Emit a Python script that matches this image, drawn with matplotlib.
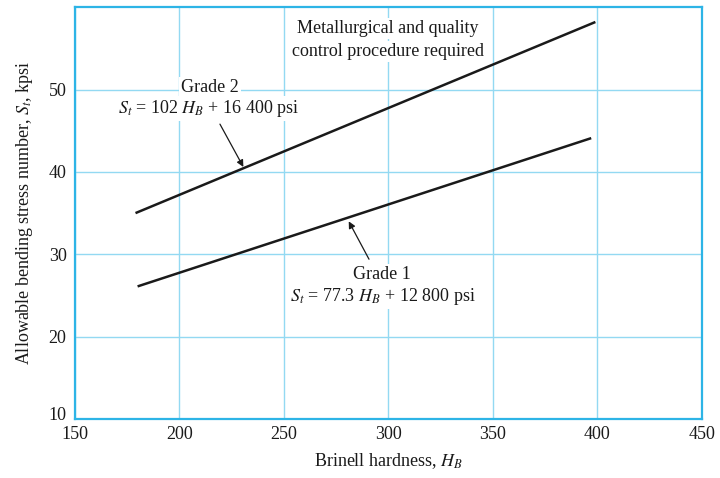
import matplotlib
matplotlib.use('Agg')
import matplotlib.pyplot as plt
from matplotlib.transforms import ScaledTranslation

plt.rcParams['font.family'] = ['Liberation Serif', 'DejaVu Serif']
plt.rcParams['mathtext.fontset'] = 'stix'

# values (kpsi vs Brinell hardness)
hb_grade1 = [180, 397]
st_grade1 = [26.1, 44.1]
hb_grade2 = [179, 399]
st_grade2 = [35.0, 58.2]

x_ticks = [150, 200, 250, 300, 350, 400, 450]
y_ticks = [10, 20, 30, 40, 50]

frame_col = '#2db4e6'
grid_col = '#93d9f2'
ink = '#1a1a1a'

fig = plt.figure(figsize=(7.2, 4.78), dpi=100)
ax = fig.add_axes([0.104, 0.1234, 0.871, 0.8616])

ax.plot(hb_grade1, st_grade1, color=ink, lw=1.8, solid_capstyle='butt', zorder=3)
ax.plot(hb_grade2, st_grade2, color=ink, lw=1.8, solid_capstyle='butt', zorder=3)

ax.set_xlim(150, 450)
ax.set_ylim(10, 60)
ax.set_xticks(x_ticks)
ax.set_yticks(y_ticks)
ax.grid(True, color=grid_col, lw=1.0)
ax.set_axisbelow(True)
for sp in ax.spines.values():
    sp.set_color(frame_col)
    sp.set_linewidth(1.6)
ax.tick_params(length=0, labelsize=13, pad=5, colors=ink)
ax.tick_params(axis='y', pad=6)

# lift the bottom "10" a little so it clears the "150"
lab10 = ax.get_yticklabels()[0]
lab10.set_transform(lab10.get_transform() + ScaledTranslation(0, 4 / 72, fig.dpi_scale_trans))

ax.set_xlabel('Brinell hardness, $H_B$', fontsize=13, color=ink, labelpad=6)
ax.set_ylabel('Allowable bending stress number, $S_t$, kpsi', fontsize=13,
              color=ink, labelpad=10)

box = dict(facecolor='white', edgecolor='none', pad=1.5)
txt = dict(ha='center', va='center', fontsize=13, color=ink, zorder=4)

ax.text(214.6, 50.2, 'Grade 2', bbox=box, **txt)
ax.text(214.0, 47.7, '$S_t$ = 102 $H_B$ + 16 400 psi', bbox=box, **txt)
ax.annotate('', xy=(230.6, 40.6), xytext=(219.4, 45.8),
            arrowprops=dict(arrowstyle='-|>', color=ink, lw=0.9,
                            mutation_scale=10, shrinkA=0, shrinkB=0))

ax.text(297.0, 27.5, 'Grade 1', bbox=box, **txt)
ax.text(297.5, 24.9, '$S_t$ = 77.3 $H_B$ + 12 800 psi', bbox=box, **txt)
ax.annotate('', xy=(281.0, 34.0), xytext=(290.7, 29.4),
            arrowprops=dict(arrowstyle='-|>', color=ink, lw=0.9,
                            mutation_scale=10, shrinkA=0, shrinkB=0))

ax.text(299.8, 57.4, 'Metallurgical and quality', bbox=box, **txt)
ax.text(299.8, 54.6, 'control procedure required', bbox=box, **txt)

fig.savefig('out.png', dpi=100)
